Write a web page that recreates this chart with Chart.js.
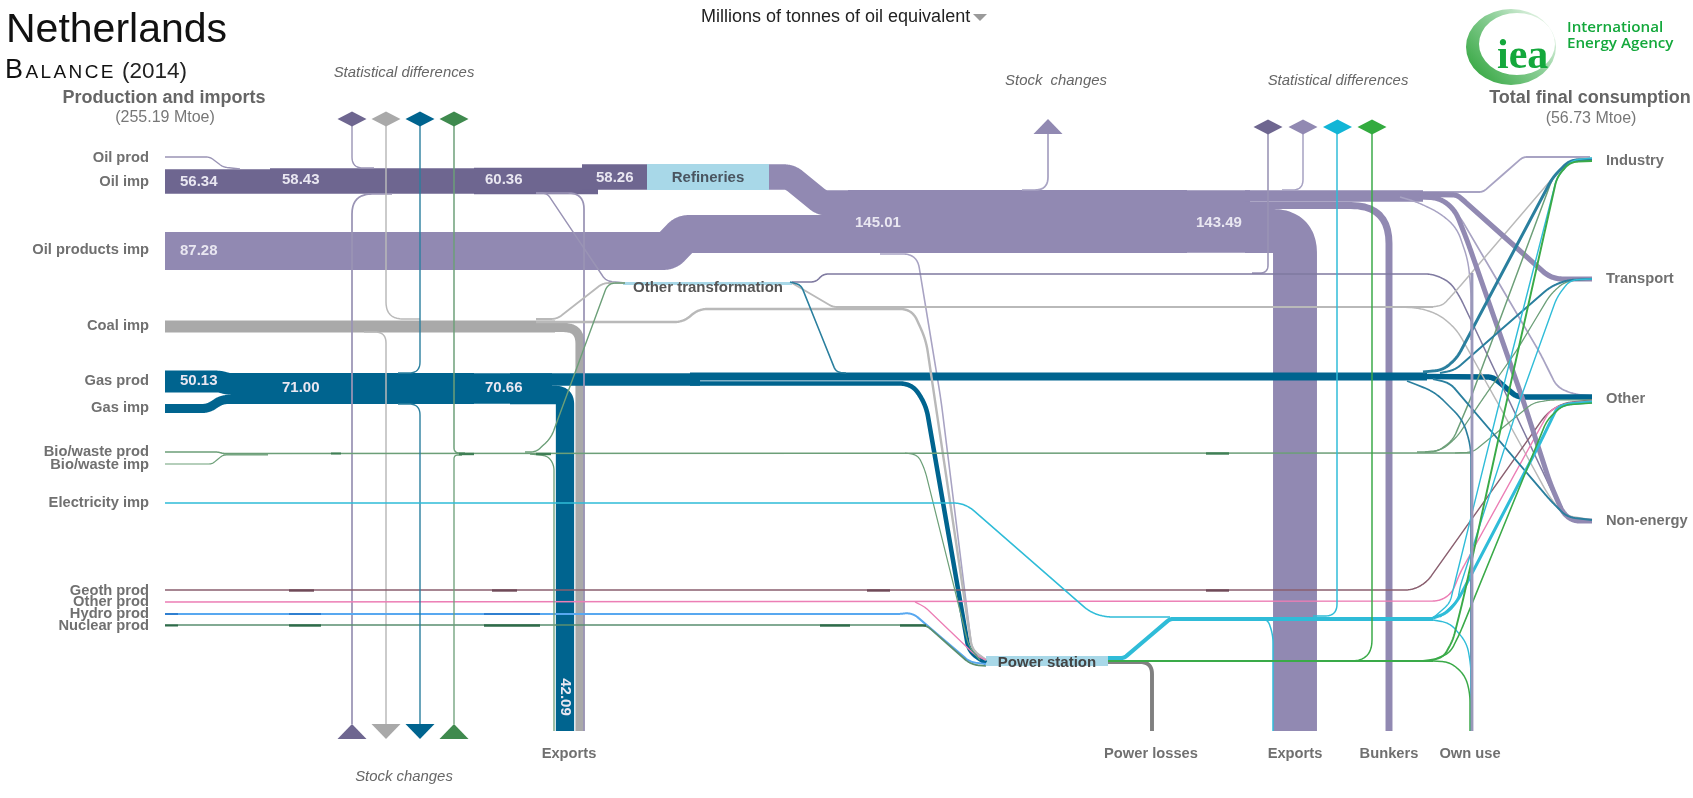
<!DOCTYPE html>
<html>
<head>
<meta charset="utf-8">
<title>Netherlands balance 2014</title>
<script src="https://cdn.jsdelivr.net/npm/chart.js@4"></script>
<style>
  html, body { margin: 0; padding: 0; background: #fff; overflow: hidden; }
  canvas { display: block; }
</style>
</head>
<body>
<canvas id="sankey" width="1693" height="798"></canvas>
<script>
// Netherlands energy balance 2014, values in Mtoe.
// Routes are [bend radius, x, y, x, y, ...] in the chart's axis units.

const pxPerMtoe = 0.435;
const thinnest = 1.2;

// Purple: oil products
const productBandNames = ['Refinery output', 'Oil products imp', 'Products 145.01', 'Products 143.49', 'Exports', 'Bunkers', 'Final uses'];
const productBandValues = [58.26, 87.28, 145.01, 143.49, 101.0, 16.0, 27.0];
const productBandRoutes = [
  [6, 769,177, 790,177, 822,203, 848,203],
  [5, 165,251, 668,251, 684,234, 848,234],
  [0, 848,221.5, 1187,221.5],
  [0, 1187,221.5, 1250,221.5],
  [22, 1245,231, 1295,231, 1295,731],
  [38, 1245,205.5, 1389,205.5, 1389,731],
  [0, 1245,196, 1423,196]
];

const productUseNames = ['Transport', 'Non-energy'];
const productUseValues = [12, 11.5];
const productUseRoutes = [
  [8, 1420,194.5, 1457,195, 1463,200, 1547,275, 1557,279, 1592,279],
  [10, 1420,197, 1440,198, 1455,210, 1467,240, 1523,400, 1550,483, 1563,513, 1573,521, 1592,521]
];

const productThinNames = ['Stock changes', 'Statistical differences', 'To power', 'To industry', 'To other', 'Own use stem'];
const productThinValues = [4, 3.5, 3.6, 4.2, 4, 3.4];
const productThinRoutes = [
  [18, 1048,134, 1048,190, 1022,190],
  [15, 1303,134, 1303,190, 1282,190],
  [14, 880,254, 917,254, 941,400, 972,650, 986,660],
  [4, 1423,192, 1483,192, 1523,157, 1590,157],
  [8, 1442,200, 1460,217, 1540,353, 1557,387, 1573,394, 1592,396],
  [12, 1400,197, 1417,202, 1440,213, 1457,228, 1468,260, 1471,290, 1471,340]
];

const ownUseNames = ['Own use'];
const ownUseValues = [6.5];
const ownUseRoutes = [[0, 1472,273, 1472,731]];

// Dark purple: crude oil
const oilBarNames = ['Oil imp', 'Oil 58.43', 'Oil 60.36', 'To refineries'];
const oilBarValues = [56.34, 58.43, 60.36, 58.26];
const oilBarRoutes = [
  [0, 165,181.5, 270,181.5],
  [0, 270,181, 474,181],
  [0, 474,181, 598,181],
  [0, 582,177, 647,177]
];

const oilThinNames = ['Oil prod', 'Statistical differences', 'Stock changes', 'To other transformation', 'Oil exports', 'Products stat. diff'];
const oilThinValues = [3.2, 3.2, 4, 3.4, 4, 3.6];
const oilThinRoutes = [
  [4, 165,157, 210,157, 223,167, 240,169],
  [18, 352,126, 352,168, 374,168],
  [28, 352,724, 352,194, 392,194],
  [6, 536,193, 547,193, 606,281, 625,283],
  [16, 536,193, 584,193, 584,731],
  [12, 1268,134, 1268,273, 1252,273]
];

const transformOutNames = ['Other transformation oil'];
const transformOutValues = [3.6];
const transformOutRoutes = [
  [8, 792,282, 816,282, 823,274, 1433,274, 1450,282, 1460,297, 1550,487, 1563,513, 1575,520, 1592,520]
];

// Grey: coal and other transformation output
const coalBarNames = ['Coal imp', 'Coal exports'];
const coalBarValues = [27.5, 21];
const coalBarRoutes = [
  [0, 165,326.5, 555,326.5],
  [16, 515,327.5, 580,327.5, 580,731]
];

const coalThinNames = ['Statistical differences', 'Stock changes', 'To other transformation', 'To power', 'Other transformation out', 'To industry', 'To non-energy'];
const coalThinValues = [3.4, 3.4, 4.2, 5.6, 4.4, 3.4, 3.4];
const coalThinRoutes = [
  [30, 386,126, 386,319, 420,319],
  [18, 386,724, 386,332, 364,332],
  [6, 536,319, 557,319, 603,283, 625,283],
  [12, 536,322, 684,322, 698,309, 912,309, 926,340, 972,650, 986,660],
  [4, 792,283, 833,307, 1433,307],
  [8, 1400,307, 1433,307, 1443,305, 1455,292, 1557,173, 1573,159, 1592,158],
  [10, 1400,307, 1420,308, 1440,315, 1457,330, 1500,407, 1547,493, 1563,515, 1592,520]
];

// Blue: gas
const gasBarNames = ['Gas prod', 'Gas imp', 'Gas 71.00', 'Gas 70.66', 'Gas exports', 'Gas onward', 'Gas onward 2', 'Gas to other', 'Gas to power'];
const gasBarValues = [50.13, 20.87, 71.0, 70.66, 42.09, 29, 18.5, 12.6, 10.5];
const gasBarRoutes = [
  [4, 165,381.5, 220,381.5, 228,384, 270,384],
  [6, 165,408.5, 208,408.5, 222,399.5, 270,399.5],
  [0, 268,388.5, 474,388.5],
  [0, 474,388.5, 552,388.5],
  [9, 510,395, 565,395, 565,731],
  [0, 510,379.5, 700,379.5],
  [0, 690,376.5, 1427,376.5],
  [6, 1425,376.5, 1493,377, 1517,397, 1592,397],
  [12, 690,383.5, 912,383.5, 926,405, 969,652, 986,663]
];

const gasThinNames = ['Statistical differences', 'Stock changes', 'To other transformation', 'To industry', 'To transport', 'Own use', 'To non-energy'];
const gasThinValues = [3.2, 3.2, 3.6, 6.8, 4.6, 3.8, 4.4];
const gasThinRoutes = [
  [22, 420,126, 420,373, 398,373],
  [22, 420,724, 420,404, 398,404],
  [5, 846,373, 836,372, 801,285, 790,282],
  [8, 1423,372, 1443,370, 1457,358, 1553,177, 1570,160, 1592,160],
  [8, 1440,373, 1455,370, 1550,287, 1567,280, 1592,279],
  [12, 1407,381, 1435,392, 1463,420, 1471,447, 1471,731],
  [8, 1433,379, 1450,383, 1550,500, 1567,517, 1592,520]
];

// Green: biofuels and waste
const bioNames = ['Bio/waste prod', 'Bio/waste imp', 'Bio/waste', 'Statistical differences', 'Stock changes', 'To other transformation', 'Exports', 'To power', 'To industry', 'To transport', 'To other'];
const bioValues = [3.4, 2.8, 3.6, 3.4, 3, 3.2, 3, 2.8, 3.4, 3, 2.8];
const bioRoutes = [
  [3, 165,452, 218,452, 225,454, 268,454],
  [3, 165,464, 212,464, 223,455, 268,455],
  [0, 223,453.5, 1473,453],
  [9, 454,126, 454,453, 465,453],
  [7, 454,724, 454,455, 462,455],
  [8, 525,452, 536,452, 551,438, 608,283, 625,283],
  [8, 530,454, 548,456, 554,465, 554,731],
  [10, 905,453, 918,455, 925,470, 969,647, 980,660],
  [8, 1417,452, 1437,452, 1453,440, 1470,400, 1553,177, 1570,161, 1592,160],
  [8, 1425,452, 1442,450, 1457,437, 1482,400, 1517,350, 1550,295, 1563,283, 1575,280, 1592,279],
  [6, 1455,453, 1473,452, 1533,403, 1550,400, 1592,400]
];

// Cyan: electricity
const elecNames = ['Electricity imp', 'Power station output', 'Statistical differences', 'Exports', 'To other', 'Own use', 'To industry', 'To transport'];
const elecValues = [3.6, 9.5, 3.4, 3.4, 7, 3.2, 3.2, 3.2];
const elecRoutes = [
  [12, 165,503, 965,503, 1090,612, 1105,617, 1170,617],
  [3, 1108,658, 1124,658, 1170,619, 1433,619],
  [24, 1337,127, 1337,616, 1313,616],
  [10, 1258,618, 1268,620, 1273,635, 1273,731],
  [8, 1433,618, 1447,613, 1458,600, 1540,443, 1557,408, 1567,404, 1592,402],
  [10, 1433,620, 1450,623, 1467,643, 1471,667, 1471,731],
  [8, 1433,618, 1450,603, 1453,590, 1500,400, 1557,177, 1572,160, 1592,158],
  [8, 1440,617, 1458,600, 1460,587, 1520,400, 1557,297, 1570,280, 1592,279]
];

// Bright green: power station heat and electricity share
const greenNames = ['Power station green', 'Statistical differences', 'Own use', 'To other', 'To industry'];
const greenValues = [5, 3.4, 3.4, 3.6, 4.4];
const greenRoutes = [
  [0, 1108,661, 1433,661],
  [36, 1372,127, 1372,661, 1330,661],
  [10, 1433,661, 1450,662, 1465,675, 1470,693, 1470,731],
  [8, 1433,660, 1450,653, 1460,633, 1547,420, 1563,405, 1592,403],
  [8, 1423,661, 1443,658, 1453,640, 1463,600, 1507,400, 1557,177, 1570,162, 1592,161]
];

const geothNames = ['Geoth prod'];
const geothValues = [3.4];
const geothRoutes = [[10, 165,590, 1413,590, 1427,582, 1547,413, 1563,403, 1592,400]];

const otherProdNames = ['Other prod', 'Other prod to power'];
const otherProdValues = [3.4, 3];
const otherProdRoutes = [
  [8, 165,602, 1440,601, 1452,593, 1460,573, 1550,410, 1567,403, 1592,401],
  [5, 915,602, 925,607, 975,655, 986,660]
];

const hydroNames = ['Hydro prod'];
const hydroValues = [4.6];
const hydroRoutes = [[6, 165,614, 900,614, 908,613, 915,615, 970,662, 986,664]];

const nuclearNames = ['Nuclear prod'];
const nuclearValues = [4];
const nuclearRoutes = [[6, 165,625, 926,625, 968,662, 975,665, 986,666]];

// Short darker runs on the thin lines, where they pass a column of value labels
const geothRunNames = ['Geoth a', 'Geoth b', 'Geoth c', 'Geoth d'];
const geothRunValues = [5.5, 5.5, 5.5, 5.5];
const geothRunRoutes = [[0, 289,590.5, 314,590.5], [0, 492,590.5, 517,590.5], [0, 867,590.5, 890,590.5], [0, 1206,590.5, 1229,590.5]];
const hydroRunNames = ['Hydro a', 'Hydro b', 'Hydro c'];
const hydroRunValues = [4.6, 4.6, 4.6];
const hydroRunRoutes = [[0, 165,614, 178,614], [0, 289,614, 321,614], [0, 484,614, 540,614]];
const nuclearRunNames = ['Nuclear a', 'Nuclear b', 'Nuclear c', 'Nuclear d', 'Nuclear e'];
const nuclearRunValues = [4.6, 5.5, 5.5, 5.5, 5.5];
const nuclearRunRoutes = [[0, 165,625.5, 178,625.5], [0, 289,625.5, 321,625.5], [0, 484,625.5, 540,625.5], [0, 820,625.5, 850,625.5], [0, 900,625.5, 926,625.5]];
const bioRunNames = ['Bio a', 'Bio b', 'Bio c', 'Bio d'];
const bioRunValues = [4.6, 5.5, 5.5, 5.5];
const bioRunRoutes = [[0, 331,453.5, 341,453.5], [0, 459,454, 474,454], [0, 536,454, 551,454], [0, 1206,453.5, 1229,453.5]];

const lossNames = ['Power losses'];
const lossValues = [9];
const lossRoutes = [[12, 1108,662, 1152,662, 1152,731]];

const nodeNames = ['Refineries', 'Other transformation', 'Power station'];
const nodeValues = [60, 7, 23];
const nodeRoutes = [
  [0, 647,177, 769,177],
  [0, 623,283.5, 792,283.5],
  [0, 986,661, 1108,661]
];

// Text
const sourceLabels = ['Oil prod', 'Oil imp', 'Oil products imp', 'Coal imp', 'Gas prod', 'Gas imp', 'Bio/waste prod', 'Bio/waste imp', 'Electricity imp', 'Geoth prod', 'Other prod', 'Hydro prod', 'Nuclear prod'];
const sourceBaselines = [162, 186, 254, 330, 385, 412, 456, 469, 507, 595, 606, 618, 630];
const sinkLabels = ['Industry', 'Transport', 'Other', 'Non-energy'];
const sinkBaselines = [165, 283, 403, 525];
const exitLabels = ['Exports', 'Power losses', 'Exports', 'Bunkers', 'Own use'];
const exitCentres = [569, 1151, 1295, 1389, 1470];
const barValueLabels = ['56.34', '58.43', '60.36', '58.26', '87.28', '145.01', '143.49', '50.13', '71.00', '70.66'];
const barValueX = [180, 282, 485, 596, 180, 855, 1196, 180, 282, 485];
const barValueY = [186, 184, 184, 182, 255, 227, 227, 385, 392, 392];

// Marker anchors
const diamondX = [352, 386, 420, 454, 1268, 1303, 1337.5, 1372];
const diamondY = [119, 119, 119, 119, 127, 127, 127, 127];
const diamondColours = ['#6e6690', '#a9a9a9', '#00648f', '#3f8a4e', '#6e6690', '#9189b2', '#12b5d6', '#33ab3f'];
const stockUpX = [352, 454, 1048];
const stockUpBase = [739, 739, 134];
const stockUpColours = ['#6e6690', '#3f8a4e', '#9189b2'];
const stockDownX = [386, 420];
const stockDownColours = ['#a9a9a9', '#00648f'];

const flows = [];
function addFlows(colour, names, values, routes) {
  names.forEach((name, i) => flows.push({ name, value: values[i], route: routes[i], colour }));
}

// Later entries paint over earlier ones
addFlows('#9189b2', productBandNames, productBandValues, productBandRoutes);
addFlows('#a8a3c3', productThinNames, productThinValues, productThinRoutes);
addFlows('#a8d8e8', nodeNames, nodeValues, nodeRoutes);
addFlows('#6e6690', oilBarNames, oilBarValues, oilBarRoutes);
addFlows('#a9a9a9', coalBarNames, coalBarValues, coalBarRoutes);
addFlows('#00648f', gasBarNames, gasBarValues, gasBarRoutes);
addFlows('#808080', lossNames, lossValues, lossRoutes);
addFlows('#9a94b5', oilThinNames, oilThinValues, oilThinRoutes);
addFlows('#7f7aa0', transformOutNames, transformOutValues, transformOutRoutes);
addFlows('#b9b9b9', coalThinNames, coalThinValues, coalThinRoutes);
addFlows('#8a5f6f', geothNames, geothValues, geothRoutes);
addFlows('#ec7eb5', otherProdNames, otherProdValues, otherProdRoutes);
addFlows('#58a8f0', hydroNames, hydroValues, hydroRoutes);
addFlows('#5a8f70', nuclearNames, nuclearValues, nuclearRoutes);
addFlows('#6f4a58', geothRunNames, geothRunValues, geothRunRoutes);
addFlows('#2f7fd0', hydroRunNames, hydroRunValues, hydroRunRoutes);
addFlows('#2f6b4a', nuclearRunNames, nuclearRunValues, nuclearRunRoutes);
addFlows('#9189b2', productUseNames, productUseValues, productUseRoutes);
addFlows('#6c9f78', bioNames, bioValues, bioRoutes);
addFlows('#3f7f55', bioRunNames, bioRunValues, bioRunRoutes);
addFlows('#2a7f9e', gasThinNames, gasThinValues, gasThinRoutes);
addFlows('#2fbcd8', elecNames, elecValues, elecRoutes);
addFlows('#3aaa48', greenNames, greenValues, greenRoutes);
addFlows('#9a98ba', ownUseNames, ownUseValues, ownUseRoutes);

// Rounds each bend of a route so thick lines turn like the original ribbons
function bendPoints(route) {
  const r = route[0];
  const pts = [];
  for (let i = 1; i < route.length; i += 2) pts.push({ x: route[i], y: route[i + 1] });
  if (!r) return pts;
  const out = [pts[0]];
  for (let i = 1; i < pts.length - 1; i++) {
    const a = pts[i - 1], b = pts[i], c = pts[i + 1];
    const la = Math.hypot(b.x - a.x, b.y - a.y);
    const lc = Math.hypot(c.x - b.x, c.y - b.y);
    const t = Math.min(r, la / 2, lc / 2);
    const s = { x: b.x - (b.x - a.x) / la * t, y: b.y - (b.y - a.y) / la * t };
    const e = { x: b.x + (c.x - b.x) / lc * t, y: b.y + (c.y - b.y) / lc * t };
    for (let k = 0; k <= 10; k++) {
      const u = k / 10;
      out.push({
        x: (1 - u) * (1 - u) * s.x + 2 * u * (1 - u) * b.x + u * u * e.x,
        y: (1 - u) * (1 - u) * s.y + 2 * u * (1 - u) * b.y + u * u * e.y
      });
    }
  }
  out.push(pts[pts.length - 1]);
  return out;
}

function markerDataset(name, colour, points) {
  return { label: name, data: points, showLine: true, borderWidth: 0, borderColor: colour, backgroundColor: colour, fill: 'shape', pointRadius: 0 };
}

// tension just above zero keeps Chart.js off its fast path, which folds vertical runs back on themselves
const datasets = flows.map(f => ({
  label: f.name,
  data: bendPoints(f.route),
  showLine: true,
  fill: false,
  tension: 0.001,
  pointRadius: 0,
  borderColor: f.colour,
  borderWidth: Math.max(thinnest, f.value * pxPerMtoe),
  borderCapStyle: 'butt',
  borderJoinStyle: 'round'
}));

diamondX.forEach((x, i) => {
  const y = diamondY[i];
  datasets.push(markerDataset('Statistical differences', diamondColours[i], [
    { x: x - 14.5, y }, { x, y: y - 7.5 }, { x: x + 14.5, y }, { x, y: y + 7.5 }, { x: x - 14.5, y }
  ]));
});
stockUpX.forEach((x, i) => {
  const y = stockUpBase[i];
  datasets.push(markerDataset('Stock changes', stockUpColours[i], [
    { x: x - 14.5, y }, { x, y: y - 15 }, { x: x + 14.5, y }, { x: x - 14.5, y }
  ]));
});
stockDownX.forEach((x, i) => {
  datasets.push(markerDataset('Stock changes', stockDownColours[i], [
    { x: x - 14.5, y: 724 }, { x: x + 14.5, y: 724 }, { x, y: 739 }, { x: x - 14.5, y: 724 }
  ]));
});
datasets.push(markerDataset('Unit menu', '#9a9a9a', [
  { x: 973, y: 14 }, { x: 987, y: 14 }, { x: 980, y: 21 }, { x: 973, y: 14 }
]));

// Chart.js paints the first dataset last, so give the list a reversed order
datasets.forEach((d, i) => { d.order = datasets.length - i; });

const sans = '"Liberation Sans", Arial, sans-serif';

const textPlugin = {
  id: 'sankeyText',
  afterDatasetsDraw(chart) {
    const ctx = chart.ctx;
    const sx = chart.scales.x, sy = chart.scales.y;
    const put = (text, x, y, font, colour, align) => {
      ctx.font = font;
      ctx.fillStyle = colour;
      ctx.textAlign = align || 'left';
      ctx.textBaseline = 'alphabetic';
      ctx.fillText(text, sx.getPixelForValue(x), sy.getPixelForValue(y));
    };
    ctx.save();

    drawLogo(ctx);

    put('Netherlands', 6, 42, '41px ' + sans, '#111');
    ctx.letterSpacing = '2.4px';
    put('Balance', 5, 78, 'small-caps 27px ' + sans, '#111');
    ctx.letterSpacing = '0px';
    put('(2014)', 122, 78, '22.5px ' + sans, '#222');
    put('Millions of tonnes of oil equivalent', 701, 22, '18px ' + sans, '#222');

    put('Production and imports', 164, 103, 'bold 18px ' + sans, '#666', 'center');
    put('(255.19 Mtoe)', 165, 122, '16px ' + sans, '#777', 'center');
    put('Total final consumption', 1590, 103, 'bold 18px ' + sans, '#666', 'center');
    put('(56.73 Mtoe)', 1591, 123, '16px ' + sans, '#777', 'center');

    const note = 'italic 14.9px ' + sans;
    put('Statistical differences', 404, 77, note, '#666', 'center');
    put('Statistical differences', 1338, 85, note, '#666', 'center');
    put('Stock  changes', 1056, 85, note, '#666', 'center');
    put('Stock changes', 404, 781, note, '#666', 'center');

    const label = 'bold 14.7px ' + sans;
    sourceLabels.forEach((t, i) => put(t, 149, sourceBaselines[i], label, '#707070', 'right'));
    sinkLabels.forEach((t, i) => put(t, 1606, sinkBaselines[i], label, '#707070'));
    exitLabels.forEach((t, i) => put(t, exitCentres[i], 758, label, '#707070', 'center'));

    const node = 'bold 15px ' + sans;
    put('Refineries', 708, 182, node, '#4a5560', 'center');
    put('Other transformation', 708, 292, node, '#555', 'center');
    put('Power station', 1047, 667, node, '#444', 'center');

    barValueLabels.forEach((t, i) => put(t, barValueX[i], barValueY[i], 'bold 15px ' + sans, '#e9e7f1'));

    ctx.translate(sx.getPixelForValue(565), sy.getPixelForValue(697));
    ctx.rotate(Math.PI / 2);
    ctx.font = 'bold 15px ' + sans;
    ctx.fillStyle = '#e9e7f1';
    ctx.textAlign = 'center';
    ctx.textBaseline = 'middle';
    ctx.fillText('42.09', 0, 0);
    ctx.restore();
  }
};

function drawLogo(ctx) {
  ctx.save();
  const g = ctx.createLinearGradient(1480, 80, 1550, 15);
  g.addColorStop(0, '#3aa946');
  g.addColorStop(0.55, '#8fd09a');
  g.addColorStop(1, '#f2f9f2');
  ctx.fillStyle = g;
  ctx.beginPath();
  ctx.ellipse(1511, 47, 45, 38, 0, 0, Math.PI * 2);
  ctx.ellipse(1517, 44, 38, 31, 0, 0, Math.PI * 2);
  ctx.fill('evenodd');
  ctx.restore();
  ctx.save();
  ctx.fillStyle = '#14a83c';
  ctx.font = 'bold 42px "Liberation Serif", serif';
  ctx.textAlign = 'left';
  ctx.fillText('iea', 1497, 68);
  ctx.font = '600 15.2px "Open Sans", sans-serif';
  ctx.fillText('International', 1567, 32);
  ctx.fillText('Energy Agency', 1567, 48);
  ctx.restore();
}

new Chart(document.getElementById('sankey'), {
  type: 'scatter',
  data: { datasets },
  plugins: [textPlugin],
  options: {
    responsive: false,
    animation: false,
    events: [],
    layout: { padding: 0 },
    plugins: { legend: { display: false }, tooltip: { enabled: false }, title: { display: false } },
    scales: {
      x: { type: 'linear', min: 0, max: 1693, display: false },
      y: { type: 'linear', min: 0, max: 798, reverse: true, display: false }
    }
  }
});
</script>
</body>
</html>
